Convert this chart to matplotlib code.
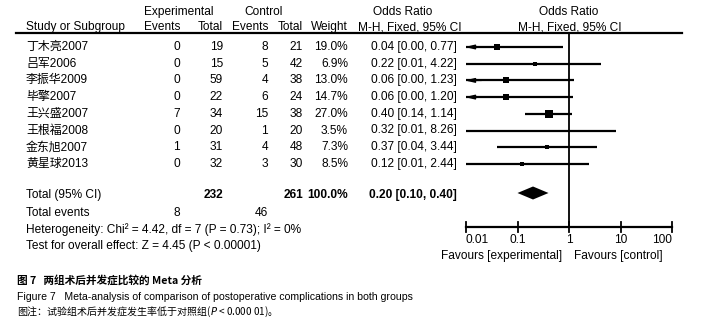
import matplotlib.pyplot as plt
import numpy as np

# ---- data ----
studies = ['丁木亮2007', '吕军2006', '李振华2009', '毕擎2007',
           '王兴盛2007', '王根福2008', '金东旭2007', '黄星球2013']
exp_events = [0, 0, 0, 0, 7, 0, 1, 0]
exp_total = [19, 15, 59, 22, 34, 20, 31, 32]
ctl_events = [8, 5, 4, 6, 15, 1, 4, 3]
ctl_total = [21, 42, 38, 24, 38, 20, 48, 30]
weight = [19.0, 6.9, 13.0, 14.7, 27.0, 3.5, 7.3, 8.5]
odds = [0.04, 0.22, 0.06, 0.06, 0.40, 0.32, 0.37, 0.12]
ci_lo = [0.00, 0.01, 0.00, 0.00, 0.14, 0.01, 0.04, 0.01]
ci_hi = [0.77, 4.22, 1.23, 1.20, 1.14, 8.26, 3.44, 2.44]
total_or, total_lo, total_hi = 0.20, 0.10, 0.40
ticks = [0.01, 0.1, 1, 10, 100]
tick_labels = ['0.01', '0.1', '1', '10', '100']

FONT = ['Liberation Sans', 'Noto Sans CJK SC']
CJK = ['Noto Sans CJK SC', 'Liberation Sans']
fs = 8.6

fig = plt.figure(figsize=(7.02, 3.21), dpi=100)
ax = fig.add_axes([0, 0, 1, 1])
ax.set_xlim(0, 702)
ax.set_ylim(321, 0)
ax.axis('off')

def t(x, y, s, ha='left', **kw):
    kw.setdefault('fontsize', fs)
    kw.setdefault('family', FONT)
    ax.text(x, y, s, ha=ha, va='center', color='black', **kw)

# header
t(179, 12, 'Experimental', ha='center')
t(264, 12, 'Control', ha='center')
t(403, 12, 'Odds Ratio', ha='center')
t(569, 12, 'Odds Ratio', ha='center')
t(26, 27, 'Study or Subgroup')
t(180, 27, 'Events', ha='right')
t(223, 27, 'Total', ha='right')
t(268, 27, 'Events', ha='right')
t(303, 27, 'Total', ha='right')
t(348, 27, 'Weight', ha='right')
t(410, 27, 'M-H, Fixed, 95% CI', ha='center')
t(570, 27, 'M-H, Fixed, 95% CI', ha='center')
ax.plot([16, 682], [33, 33], color='black', lw=1.6)

rows_y = 47 + 16.7 * np.arange(len(studies))
for i, y in enumerate(rows_y):
    t(26, y, studies[i])
    t(180, y, str(exp_events[i]), ha='right')
    t(223, y, str(exp_total[i]), ha='right')
    t(268, y, str(ctl_events[i]), ha='right')
    t(303, y, str(ctl_total[i]), ha='right')
    t(348, y, f'{weight[i]:.1f}%', ha='right')
    t(457, y, f'{odds[i]:.2f} [{ci_lo[i]:.2f}, {ci_hi[i]:.2f}]', ha='right')

# totals
ty = 195
t(26, ty, 'Total (95% CI)')
t(223, ty, str(sum(exp_total)), ha='right', weight='bold')
t(303, ty, str(sum(ctl_total)), ha='right', weight='bold')
t(348, ty, '100.0%', ha='right', weight='bold')
t(457, ty, f'{total_or:.2f} [{total_lo:.2f}, {total_hi:.2f}]', ha='right', weight='bold')
t(26, 213, 'Total events')
t(180, 213, str(sum(exp_events)), ha='right')
t(268, 213, str(sum(ctl_events)), ha='right')
t(26, 230, 'Heterogeneity: Chi² = 4.42, df = 7 (P = 0.73); I² = 0%')
t(26, 246, 'Test for overall effect: Z = 4.45 (P < 0.00001)')

# forest panel (log scale), x from 455 to 683 px, 1 at 569 px
lim = 10 ** (114 / 51.5)
fx = fig.add_axes([455 / 702, 0, 228 / 702, 1])
fx.set_xscale('log')
fx.set_xlim(1 / lim, lim)
fx.set_ylim(321, 0)
fx.axis('off')

ay = 227
fx.plot([1, 1], [33, ay], color='black', lw=1.3)
for i, y in enumerate(rows_y):
    lo = max(ci_lo[i], 0.01)
    fx.plot([lo, ci_hi[i]], [y, y], color='black', lw=1.6, solid_capstyle='butt')
    if ci_lo[i] < 0.01:
        fx.annotate('', xy=(0.0095, y), xytext=(0.02, y),
                    arrowprops=dict(arrowstyle='-|>,head_length=0.55,head_width=0.13',
                                    color='black', lw=1.0, shrinkA=0, shrinkB=0))
    side = 7.5 * np.sqrt(weight[i] / 27.0)
    fx.plot(odds[i], y, marker='s', ms=side * 0.72, color='black', mec='black', mew=0)

# diamond
dy0 = ty - 2
dx = [total_lo, total_or, total_hi, total_or]
dy = [dy0, dy0 - 6.5, dy0, dy0 + 6.5]
fx.fill(dx, dy, color='black', lw=0)

# axis
fx.plot([ticks[0], ticks[-1]], [ay, ay], color='black', lw=1.6)
for k, (tk, lb) in enumerate(zip(ticks, tick_labels)):
    fx.plot([tk, tk], [ay - 5, ay + 5], color='black', lw=1.3)
    ha = 'left' if k == 0 else ('right' if k == len(ticks) - 1 else 'center')
    fx.text(tk, 240, lb, ha=ha, va='center', fontsize=fs, family=FONT)
fx.text(0.73, 256, 'Favours [experimental]', ha='right', va='center', fontsize=fs, family=FONT)
fx.text(1.25, 256, 'Favours [control]', ha='left', va='center', fontsize=fs, family=FONT)

# caption
t(17, 280, '图 7   两组术后并发症比较的 Meta 分析', fontsize=7.7, family=CJK, weight='bold')
t(17, 297, 'Figure 7   Meta-analysis of comparison of postoperative complications in both groups',
  fontsize=7.6, family=['Liberation Sans'])
t(17, 312, '图注：试验组术后并发症发生率低于对照组($\\mathit{P}$ < 0.000 01)。', fontsize=7.2, family=CJK)

fig.savefig('out.png', dpi=100)
